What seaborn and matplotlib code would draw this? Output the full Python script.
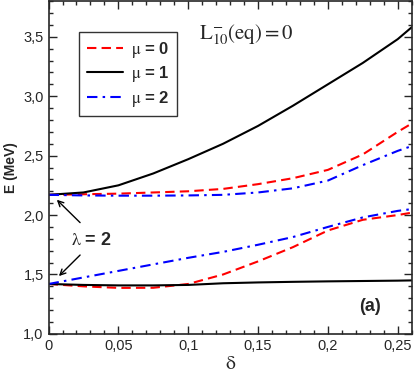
import numpy as np
import pandas as pd
import matplotlib
matplotlib.use('Agg')
import matplotlib.pyplot as plt
from matplotlib.ticker import MultipleLocator, FuncFormatter
import seaborn as sns

# deformation delta
delta = [0, 0.025, 0.05, 0.075, 0.1, 0.125, 0.15, 0.175, 0.2, 0.225, 0.25, 0.26]

# upper branch (lambda = 2, higher state)
mu0_up = [2.17, 2.175, 2.18, 2.19, 2.20, 2.22, 2.26, 2.31, 2.38, 2.51, 2.70, 2.77]
mu1_up = [2.17, 2.19, 2.25, 2.35, 2.47, 2.60, 2.75, 2.92, 3.10, 3.28, 3.48, 3.58]
mu2_up = [2.17, 2.165, 2.163, 2.163, 2.165, 2.17, 2.19, 2.225, 2.29, 2.42, 2.54, 2.58]

# lower branch
mu0_lo = [1.42, 1.40, 1.387, 1.388, 1.42, 1.50, 1.61, 1.73, 1.87, 1.96, 2.00, 2.02]
mu1_lo = [1.42, 1.412, 1.408, 1.408, 1.412, 1.426, 1.433, 1.438, 1.442, 1.445, 1.448, 1.45]
mu2_lo = [1.42, 1.475, 1.53, 1.585, 1.64, 1.69, 1.75, 1.815, 1.90, 1.98, 2.035, 2.05]

sns.set_style('ticks')
plt.rcParams['font.family'] = ['Liberation Sans', 'DejaVu Sans']
plt.rcParams['mathtext.fontset'] = 'stix'

fig = plt.figure(figsize=(4.15, 3.76), dpi=100)
ax = fig.add_axes([0.117, 0.112, 0.875, 0.885])

red_dash = dict(color='#ff0000', lw=1.5, dashes=(4.5, 2.5))
black = dict(color='black', lw=1.5, linestyle='-')
blue_dd = dict(color='#0000ff', lw=1.5, dashes=(5, 2.5, 1.2, 2.5))

sns.lineplot(x=delta, y=mu0_up, ax=ax, label=r'$\mathrm{\mu}$ = 0', **red_dash)
sns.lineplot(x=delta, y=mu1_up, ax=ax, label=r'$\mathrm{\mu}$ = 1', **black)
sns.lineplot(x=delta, y=mu2_up, ax=ax, label=r'$\mathrm{\mu}$ = 2', **blue_dd)
sns.lineplot(x=delta, y=mu0_lo, ax=ax, **red_dash)
sns.lineplot(x=delta, y=mu1_lo, ax=ax, **black)
sns.lineplot(x=delta, y=mu2_lo, ax=ax, **blue_dd)

ax.set_xlim(0, 0.26)
ax.set_ylim(1.0, 3.8)
ax.xaxis.set_major_locator(MultipleLocator(0.05))
ax.xaxis.set_minor_locator(MultipleLocator(0.01))
ax.yaxis.set_major_locator(MultipleLocator(0.5))
ax.yaxis.set_minor_locator(MultipleLocator(0.1))
ax.xaxis.set_major_formatter(FuncFormatter(lambda v, p: ('%g' % round(v, 3)).replace('.', ',')))
ax.yaxis.set_major_formatter(FuncFormatter(lambda v, p: ('%.1f' % v).replace('.', ',')))
ax.tick_params(which='both', direction='in', top=True, right=True, labelsize=10.5, width=1)
ax.tick_params(which='major', length=6)
ax.tick_params(which='minor', length=3)
for s in ax.spines.values():
    s.set_linewidth(1.2)

ax.set_xlabel(r'$\mathrm{\delta}$', fontsize=14, labelpad=2)
ax.set_ylabel('E (MeV)', fontsize=10, fontweight='bold', labelpad=4)

leg = ax.legend(loc='upper left', bbox_to_anchor=(0.084, 0.907), borderaxespad=0,
                frameon=True, fancybox=False, edgecolor='black',
                handlelength=2.2, handletextpad=0.45, labelspacing=0.28,
                borderpad=0.45, prop=dict(weight='bold', size=12))
leg.get_frame().set_linewidth(1.0)

ax.text(0.108, 3.52, r'$\mathrm{L}^{-}_{10}\mathrm{(eq)} = 0$', fontsize=15,
        ha='left', va='center')

ax.text(0.031, 1.79, r'$\mathrm{\lambda}$ = 2', fontsize=13, fontweight='bold', ha='center', va='center')
ax.annotate('', xy=(0.0045, 2.145), xytext=(0.024, 1.92),
            arrowprops=dict(arrowstyle='->', color='black', lw=1.0))
ax.annotate('', xy=(0.006, 1.47), xytext=(0.024, 1.68),
            arrowprops=dict(arrowstyle='->', color='black', lw=1.0))

ax.text(0.230, 1.23, '(a)', fontsize=13, fontweight='bold', ha='center', va='center')

fig.savefig('out.png', dpi=100)
